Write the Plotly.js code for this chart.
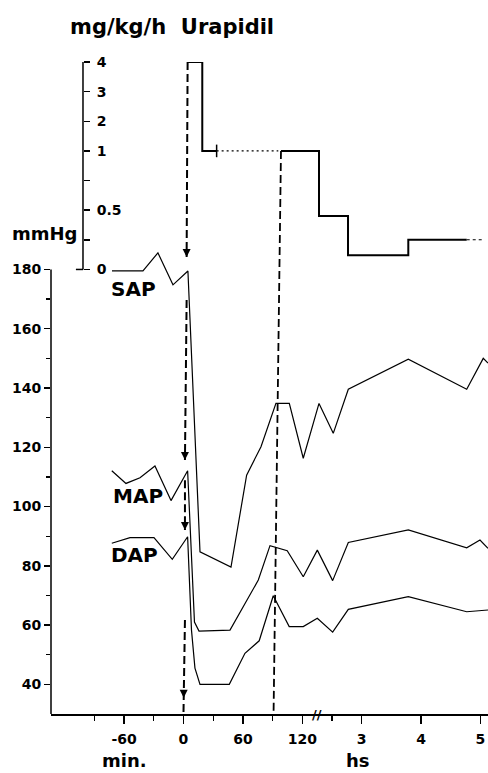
<!DOCTYPE html>
<html><head><meta charset="utf-8">
<script src="https://cdn.plot.ly/plotly-3.0.1.min.js"></script>
<style>html,body{margin:0;padding:0;background:#fff}</style>
</head><body><div id="chart" style="width:488px;height:773px"></div>
<script>
// Blood pressure (mmHg) vs time (min)
const sapTime = [-72.2,-40.9,-25.8,-10.6,4.5,16.7,48,63.8,78.3,93.4,106.9,121,136.9,151.3,166.5,227.1,286.1,302.8,307.6];
const sapValues = [179.5,179.5,185.6,174.8,179.5,84.7,79.6,110.6,120.2,134.8,134.8,116.3,134.8,124.7,139.6,149.7,139.6,150,148.4];
const mapTime = [-72.4,-58.1,-43.9,-28.8,-12.6,4.2,11.1,15.7,47,60.4,75.6,87.4,104.8,121,135.2,150.7,166.5,227.1,286.1,299.5,307.6];
const mapValues = [112.1,107.8,109.7,113.7,102,112.1,61,58,58.3,66.2,75.2,86.8,85.1,76.3,85.3,75,87.9,92.1,86.1,88.7,85.9];
const dapTime = [-72.4,-54,-29.8,-11.3,4.2,8.1,11.6,16.7,46.3,62.1,76.5,90.7,106.8,121,135.2,150.7,166.5,227.1,286.1,307.6];
const dapValues = [87.6,89.5,89.5,82.2,89.8,58.3,45.5,40,40,50.5,54.7,69.9,59.5,59.5,62.3,57.6,65.3,69.6,64.5,65.1];

// Urapidil infusion rate (mg/kg/h)
const urapTime1 = [4.2,19,19,33.5];
const urapDose1 = [4,4,1,1];
const urapGapTime = [33.5,95.8];
const urapGapDose = [1,1];
const urapTime2 = [98.5,136.9,136.9,166.2,166.2,227.1,227.1,286.1];
const urapDose2 = [1,1,0.45,0.45,0.12,0.12,0.25,0.25];
const urapTailTime = [286.1,302.5];
const urapTailDose = [0.25,0.25];

// Ticks
const timeTickVals = [-60,0,60,120,180,240,300];
const timeTickText = ['-60','0','60','120','3','4','5'];
const timeMinorVals = [-90,-30,30,90,150];
const mmHgTicks = [40,60,80,100,120,140,160,180];
const mmHgMinor = [50,70,90,110,130,150,170];
const doseTickVals = [0,0.25,0.5,0.75,1,2,3,4];
const doseTickText = ['0','','0.5','','1','2','3','4'];

// Start-of-infusion cue lines (time, mmHg level) and arrow tips
const cueTime = [4.2,3.2,null,3.2,1.5,null,1.5,1.5,null,1.5,0];
const cueLevel = ['U4',184.2,null,169.7,115.7,null,108.9,92.1,null,61.7,30];
const cue2Time = [98.5,91];
const cue2Level = ['U1',30];
const arrowTime = [3.2,1.5,1.5,0.2];
const arrowLevel = [184.2,115.7,92.1,35.5];

// dose scale: 0..1 expanded, 1..4 compressed
function doseToAxis(v){ return v<=1 ? 4*v : 3+v; }
function doseToMain(v){ return 180 + 10*doseToAxis(v); }
function lvl(a){ return a.map(v => (typeof v==='string') ? doseToMain(parseFloat(v.slice(1))) : v); }

const bold = {family:'DejaVu Sans', size:14, color:'#000', weight:'bold'};
const thin = {color:'#000', width:1.2};
const step = {color:'#000', width:2};

const traces = [
  {x:sapTime, y:sapValues, mode:'lines', line:thin, xaxis:'x', yaxis:'y'},
  {x:mapTime, y:mapValues, mode:'lines', line:thin, xaxis:'x', yaxis:'y'},
  {x:dapTime, y:dapValues, mode:'lines', line:thin, xaxis:'x', yaxis:'y'},
  {x:urapTime1, y:urapDose1.map(doseToAxis), mode:'lines', line:step, yaxis:'y2'},
  {x:[urapTime1[urapTime1.length-1]], y:[doseToAxis(urapDose1[urapDose1.length-1])], mode:'markers',
   marker:{symbol:'line-ns-open', size:9, color:'#000', line:{color:'#000', width:1.5}}, yaxis:'y2'},
  {x:urapGapTime, y:urapGapDose.map(doseToAxis), mode:'lines', line:{color:'#000', width:1.1, dash:'2px,3px'}, yaxis:'y2'},
  {x:urapTime2, y:urapDose2.map(doseToAxis), mode:'lines', line:step, yaxis:'y2'},
  {x:urapTailTime, y:urapTailDose.map(doseToAxis), mode:'lines', line:{color:'#000', width:1.1, dash:'3px,3px'}, yaxis:'y2'},
  {x:cueTime, y:lvl(cueLevel), mode:'lines', line:{color:'#000', width:2, dash:'8px,4px'}, connectgaps:false, yaxis:'y'},
  {x:cue2Time, y:lvl(cue2Level), mode:'lines', line:{color:'#000', width:1.8, dash:'8px,4px'}, yaxis:'y'}
];

const annotations = [
  {xref:'paper', yref:'paper', x:0.278, y:1.054, text:'mg/kg/h  Urapidil', showarrow:false,
   font:{family:'DejaVu Sans', size:21, color:'#000', weight:'bold'}, xanchor:'center', yanchor:'middle'},
  {xref:'paper', yref:'paper', x:-0.014, y:0.737, text:'mmHg', showarrow:false,
   font:{family:'DejaVu Sans', size:18, color:'#000', weight:'bold'}, xanchor:'center', yanchor:'middle'},
  {xref:'x', yref:'y', x:-50.5, y:173.5, text:'SAP', showarrow:false,
   font:{family:'DejaVu Sans', size:20, color:'#000', weight:'bold'}, xanchor:'center', yanchor:'middle'},
  {xref:'x', yref:'y', x:-45.5, y:103.7, text:'MAP', showarrow:false,
   font:{family:'DejaVu Sans', size:20, color:'#000', weight:'bold'}, xanchor:'center', yanchor:'middle'},
  {xref:'x', yref:'y', x:-49.7, y:83.6, text:'DAP', showarrow:false,
   font:{family:'DejaVu Sans', size:20, color:'#000', weight:'bold'}, xanchor:'center', yanchor:'middle'},
  {xref:'x', yref:'paper', x:-59.6, y:-0.072, text:'min.', showarrow:false,
   font:{family:'DejaVu Sans', size:18, color:'#000', weight:'bold'}, xanchor:'center', yanchor:'middle'},
  {xref:'x', yref:'paper', x:176.3, y:-0.072, text:'hs', showarrow:false,
   font:{family:'DejaVu Sans', size:18, color:'#000', weight:'bold'}, xanchor:'center', yanchor:'middle'},
  {xref:'x', yref:'paper', x:135, y:0, text:'//', showarrow:false,
   font:{family:'DejaVu Sans', size:13, color:'#000', weight:'bold'}, xanchor:'center', yanchor:'middle'}
];
arrowTime.forEach((t,i) => annotations.push({xref:'x', yref:'y', x:t, y:arrowLevel[i], ax:0, ay:-7,
  showarrow:true, arrowhead:2, arrowsize:1, arrowwidth:1.6, arrowcolor:'#000', text:''}));

const layout = {
  width:488, height:773,
  margin:{l:51, r:0, t:62, b:59},
  paper_bgcolor:'#fff', plot_bgcolor:'#fff',
  showlegend:false,
  xaxis:{range:[-133.8,307.6], showgrid:false, zeroline:false, showline:true, linecolor:'#000', linewidth:1.5,
    tickmode:'array', tickvals:timeTickVals, ticktext:timeTickText, ticks:'outside', ticklen:8, tickwidth:1.5,
    tickcolor:'#000', ticklabelstandoff:4, tickfont:bold,
    minor:{tickmode:'array', tickvals:timeMinorVals, ticks:'outside', ticklen:5, tickwidth:1.2, tickcolor:'#000'}},
  yaxis:{range:[30,250], showgrid:false, zeroline:false, showline:false,
    tickmode:'array', tickvals:mmHgTicks, ticks:'outside', ticklen:6, tickwidth:1.5, tickcolor:'#000', tickfont:bold,
    minor:{tickmode:'array', tickvals:mmHgMinor, ticks:'outside', ticklen:4, tickwidth:1.2, tickcolor:'#000'}},
  yaxis2:{overlaying:'y', anchor:'free', position:0.0732, side:'right', range:[-15,7],
    showgrid:false, zeroline:false, showline:false,
    tickmode:'array', tickvals:doseTickVals.map(doseToAxis), ticktext:doseTickText,
    ticks:'outside', ticklen:6, tickwidth:1.5, tickcolor:'#000', ticklabelstandoff:4, tickfont:bold},
  shapes:[
    {type:'line', xref:'paper', yref:'y', x0:0, x1:0, y0:30, y1:180, line:{color:'#000', width:1.5}},
    {type:'line', xref:'paper', yref:'y2', x0:0.0732, x1:0.0732, y0:0, y1:7, line:{color:'#000', width:1.5}},
    {type:'line', xref:'paper', yref:'y2', x0:0.057, x1:0.0732, y0:0, y1:0, line:{color:'#000', width:1.5}}
  ],
  annotations:annotations
};

Plotly.newPlot('chart', traces, layout, {displayModeBar:false, staticPlot:true});
</script>
</body></html>
